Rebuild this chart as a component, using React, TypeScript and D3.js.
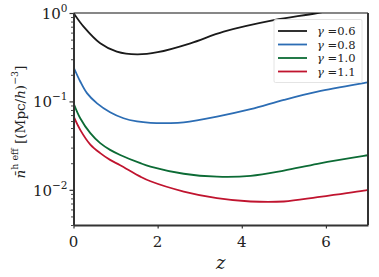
import { useRef, useEffect } from "react";
import * as d3 from "d3";

// curve samples (z, number density)
const zBlack = [0, 0.24, 0.635, 1.03, 1.51, 2.0, 2.78, 3.57, 4.76, 5.8, 7];
const nBlack = [1.0, 0.7, 0.454, 0.365, 0.34, 0.36, 0.454, 0.615, 0.83, 1.0, 1.3];

const zBlue = [0, 0.16, 0.32, 0.56, 0.87, 1.19, 1.51, 1.83, 2.3, 2.62, 3.41, 4.21, 5.0, 5.8, 6.9, 7];
const nBlue = [0.245, 0.168, 0.124, 0.095, 0.0755, 0.0645, 0.0594, 0.0572, 0.0568, 0.058, 0.0673, 0.0816, 0.104, 0.129, 0.161, 0.164];

const zGreen = [0, 0.16, 0.4, 0.635, 0.87, 1.11, 1.59, 1.83, 2.62, 3.41, 4.21, 5.0, 5.8, 6.9, 7];
const nGreen = [0.096, 0.0645, 0.0437, 0.0337, 0.0283, 0.0248, 0.02, 0.0183, 0.0152, 0.0141, 0.0144, 0.0165, 0.0197, 0.0242, 0.0246];

const zRed = [0, 0.16, 0.4, 0.635, 0.87, 1.11, 1.59, 1.83, 2.62, 3.41, 4.21, 5.0, 5.8, 6.9, 7];
const nRed = [0.068, 0.0477, 0.0325, 0.026, 0.0218, 0.019, 0.0141, 0.0125, 0.00957, 0.00806, 0.00738, 0.00738, 0.00826, 0.0098, 0.01];

const gammas = ["0.6", "0.8", "1.0", "1.1"];
const colors = ["#1a1a1a", "#2c6db4", "#0c6b35", "#c0142f"];
const xTicks = [0, 2, 4, 6];
const yTickExps = [0, -1, -2];

const series = [
  { z: zBlack, n: nBlack },
  { z: zBlue, n: nBlue },
  { z: zGreen, n: nGreen },
  { z: zRed, n: nRed },
];

const W = 379;
const H = 277;
const margin = { left: 73.5, right: 11, top: 13, bottom: 52 };
const font = "'DejaVu Serif', 'Liberation Serif', serif";

export default function App() {
  const ref = useRef<SVGSVGElement>(null);

  useEffect(() => {
    const svg = d3.select(ref.current);
    svg.selectAll("*").remove();

    const x = d3.scaleLinear().domain([0, 7]).range([margin.left, W - margin.right]);
    const y = d3.scaleLog().domain([0.004, 1]).range([H - margin.bottom, margin.top]);

    svg.append("defs").append("clipPath").attr("id", "plotclip")
      .append("rect")
      .attr("x", margin.left).attr("y", margin.top)
      .attr("width", W - margin.left - margin.right)
      .attr("height", H - margin.top - margin.bottom);

    // curves
    const line = d3.line<[number, number]>()
      .x(d => x(d[0]))
      .y(d => y(d[1]))
      .curve(d3.curveCatmullRom.alpha(0.5));

    svg.append("g").attr("clip-path", "url(#plotclip)")
      .selectAll("path")
      .data(series)
      .enter()
      .append("path")
      .attr("d", s => line(s.z.map((z, i) => [z, s.n[i]] as [number, number])))
      .attr("fill", "none")
      .attr("stroke", (d, i) => colors[i])
      .attr("stroke-width", 1.8);

    // frame
    const x0 = margin.left, x1 = W - margin.right, y0 = margin.top, y1 = H - margin.bottom;
    svg.append("line").attr("x1", x0).attr("x2", x1).attr("y1", y0).attr("y2", y0)
      .attr("stroke", "#111").attr("stroke-width", 1.2);
    svg.append("line").attr("x1", x1).attr("x2", x1).attr("y1", y0).attr("y2", y1)
      .attr("stroke", "#333").attr("stroke-width", 2);

    // x axis
    const xAxis = d3.axisBottom(x).tickValues(xTicks).tickSize(3.5).tickSizeOuter(0).tickFormat(() => "");
    const gx = svg.append("g").attr("transform", `translate(0,${y1})`).call(xAxis);
    gx.select(".domain").attr("stroke", "#333").attr("stroke-width", 2);
    gx.selectAll(".tick line").attr("stroke", "#333").attr("stroke-width", 1.2);

    svg.append("g").selectAll("text").data(xTicks).enter().append("text")
      .attr("x", d => x(d)).attr("y", y1 + 22)
      .attr("text-anchor", "middle")
      .attr("font-family", font).attr("font-size", 15).attr("fill", "#222")
      .text(d => d);

    // y axis: major + minor ticks
    const minor: number[] = [];
    for (let e = -3; e < 0; e++) {
      for (let k = 2; k <= 9; k++) {
        const v = k * Math.pow(10, e);
        if (v >= 0.004 && v <= 1) minor.push(v);
      }
    }
    const yMajor = d3.axisLeft(y).tickValues(yTickExps.map(e => Math.pow(10, e)))
      .tickSize(4).tickSizeOuter(0).tickFormat(() => "");
    const gy = svg.append("g").attr("transform", `translate(${x0},0)`).call(yMajor);
    gy.select(".domain").attr("stroke", "#333").attr("stroke-width", 2);
    gy.selectAll(".tick line").attr("stroke", "#333").attr("stroke-width", 1.2);

    const yMinor = d3.axisLeft(y).tickValues(minor).tickSize(2.5).tickSizeOuter(0).tickFormat(() => "");
    const gm = svg.append("g").attr("transform", `translate(${x0},0)`).call(yMinor);
    gm.select(".domain").remove();
    gm.selectAll(".tick line").attr("stroke", "#333").attr("stroke-width", 0.9);

    const ylab = svg.append("g").selectAll("text").data(yTickExps).enter().append("text")
      .attr("x", x0 - 6).attr("y", d => y(Math.pow(10, d)) + 6)
      .attr("text-anchor", "end")
      .attr("font-family", font).attr("fill", "#222");
    ylab.append("tspan").attr("font-size", 15).text("10");
    ylab.append("tspan").attr("font-size", 10.5).attr("dy", -7).text(d => d === 0 ? "0" : "\u2212" + Math.abs(d));

    // axis labels
    svg.append("text")
      .attr("x", x(3.5)).attr("y", H - 8)
      .attr("text-anchor", "middle")
      .attr("font-family", font).attr("font-style", "italic").attr("font-size", 18).attr("fill", "#222")
      .text("z");

    const yl = svg.append("text")
      .attr("transform", `translate(25,${(y0 + y1) / 2 + 3}) rotate(-90)`)
      .attr("text-anchor", "middle")
      .attr("font-family", font).attr("font-size", 13.5).attr("fill", "#222");
    yl.append("tspan").attr("font-style", "italic").text("n\u0304");
    yl.append("tspan").attr("font-size", 9.5).attr("dy", -7).text("h eff");
    yl.append("tspan").attr("dy", 7).text(" [(Mpc/");
    yl.append("tspan").attr("font-style", "italic").text("h");
    yl.append("tspan").text(")");
    yl.append("tspan").attr("font-size", 9.5).attr("dy", -7).text("\u22123");
    yl.append("tspan").attr("dy", 7).text("]");

    // legend
    const lg = svg.append("g").attr("transform", "translate(274,19.5)");
    lg.append("rect").attr("width", 88).attr("height", 63)
      .attr("fill", "white").attr("fill-opacity", 0.85)
      .attr("stroke", "#ddd").attr("stroke-width", 0.8).attr("rx", 1.5);
    const item = lg.selectAll("g.item").data(gammas).enter().append("g")
      .attr("class", "item")
      .attr("transform", (d, i) => `translate(0,${11.5 + i * 13.5})`);
    item.append("line").attr("x1", 4).attr("x2", 33)
      .attr("stroke", (d, i) => colors[i]).attr("stroke-width", 1.8);
    const lt = item.append("text").attr("x", 43).attr("y", 4)
      .attr("font-family", font).attr("font-size", 11.5).attr("fill", "#222");
    lt.append("tspan").attr("font-style", "italic").text("\u03b3");
    lt.append("tspan").text(d => " =" + d);
  }, []);

  return (
    <svg ref={ref} width={W} height={H}
      style={{ position: "absolute", left: 0, top: 0, background: "white" }} />
  );
}
